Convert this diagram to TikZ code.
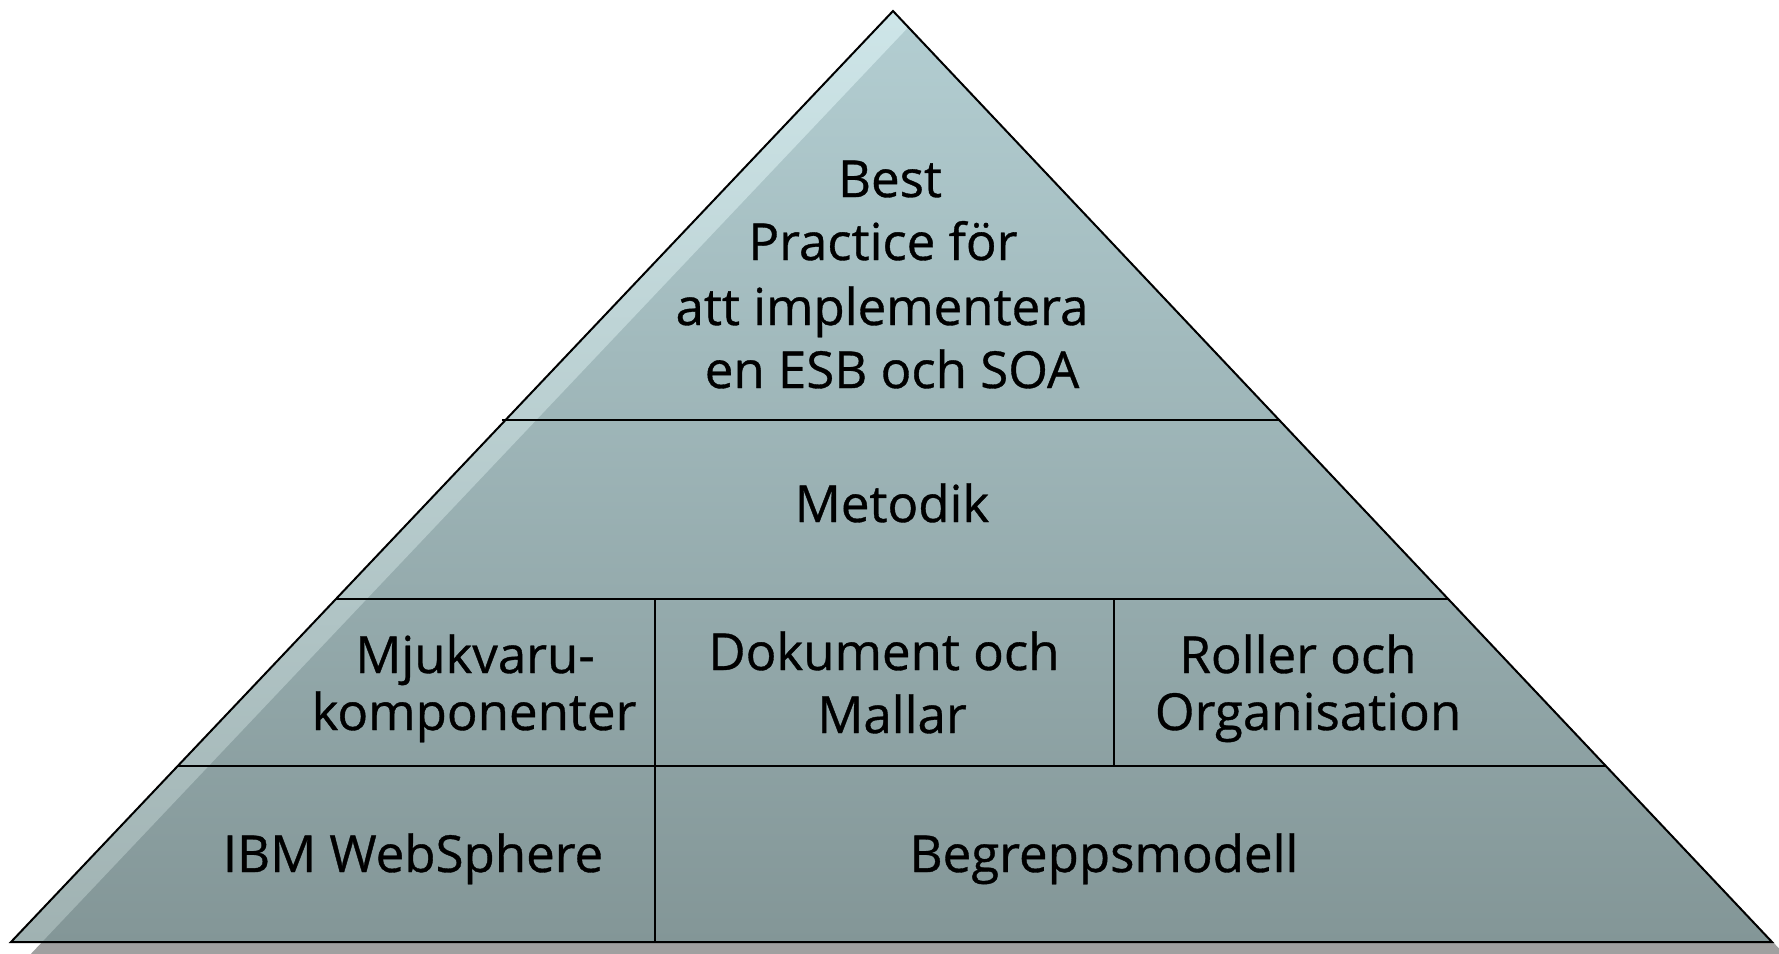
\documentclass[tikz,border=0pt]{standalone}
\usepackage{fontspec}
\setmainfont{Open Sans}[BoldFont={Open Sans}, BoldFeatures={FakeBold=0.7}]
\definecolor{topfill}{RGB}{179,206,210}
\definecolor{botfill}{RGB}{131,150,151}
\definecolor{stripetop}{RGB}{206,230,233}
\definecolor{stripebot}{RGB}{160,178,178}
\definecolor{shadowgrey}{RGB}{160,160,160}
\begin{document}
\begin{tikzpicture}[x=1pt,y=-1pt,
  lbl/.style={font=\fontsize{51}{60}\selectfont\bfseries, inner sep=0pt, anchor=base, text=black},
  edge/.style={line width=2pt, line join=miter},
  divider/.style={line width=1.8pt},
  thindivider/.style={line width=1.2pt}]
\useasboundingbox (0,0) rectangle (1779,953);
% corners
\coordinate (A) at (893,11);
\coordinate (L) at (11,942);
\coordinate (R) at (1772,942);
% shadow
\fill[shadowgrey] ([shift={(16,16)}]A) -- ([shift={(16,16)}]L) -- ([shift={(16,16)}]R) -- cycle;
% body
\begin{scope}
  \clip (A) -- (L) -- (R) -- cycle;
  \shade[top color=topfill, bottom color=botfill] (0,11) rectangle (1779,942);
  \shade[top color=stripetop, bottom color=stripebot] (11,942) -- (42,942) -- (934,0) -- (903,0) -- cycle;
\end{scope}
\draw[edge] (A) -- (L) -- (R) -- cycle;
% dividers
\coordinate (h1l) at (502,420); \coordinate (h1r) at (1279,420);
\coordinate (h2l) at (336,599); \coordinate (h2r) at (1448,599);
\coordinate (h3l) at (177,766); \coordinate (h3r) at (1605,766);
\coordinate (v1t) at (655,599); \coordinate (v1b) at (655,942);
\coordinate (v2t) at (1114,599); \coordinate (v2b) at (1114,766);
\draw[divider] (h1l) -- (h1r);
\draw[divider] (h2l) -- (h2r);
\draw[divider] (h3l) -- (h3r);
\draw[divider] (v1t) -- (v1b);
\draw[thindivider] (v2t) -- (v2b);
% labels
\node[lbl] (best1) at (890,197) {Best};
\node[lbl] (best2) at (883,260) {Practice för};
\node[lbl] (best3) at (882,325) {att implementera};
\node[lbl] (best4) at (892,388) {en ESB och SOA};
\node[lbl] (metodik) at (892,522) {Metodik};
\node[lbl] (mjuk1) at (475,673) {Mjukvaru-};
\node[lbl] (mjuk2) at (474,730) {komponenter};
\node[lbl] (dok1) at (884,670) {Dokument och};
\node[lbl] (dok2) at (892,733) {Mallar};
\node[lbl] (rol1) at (1298,673) {Roller och};
\node[lbl] (rol2) at (1308,730) {Organisation};
\node[lbl] (ibm) at (413,872) {IBM WebSphere};
\node[lbl] (begr) at (1104,872) {Begreppsmodell};
\end{tikzpicture}
\end{document}
